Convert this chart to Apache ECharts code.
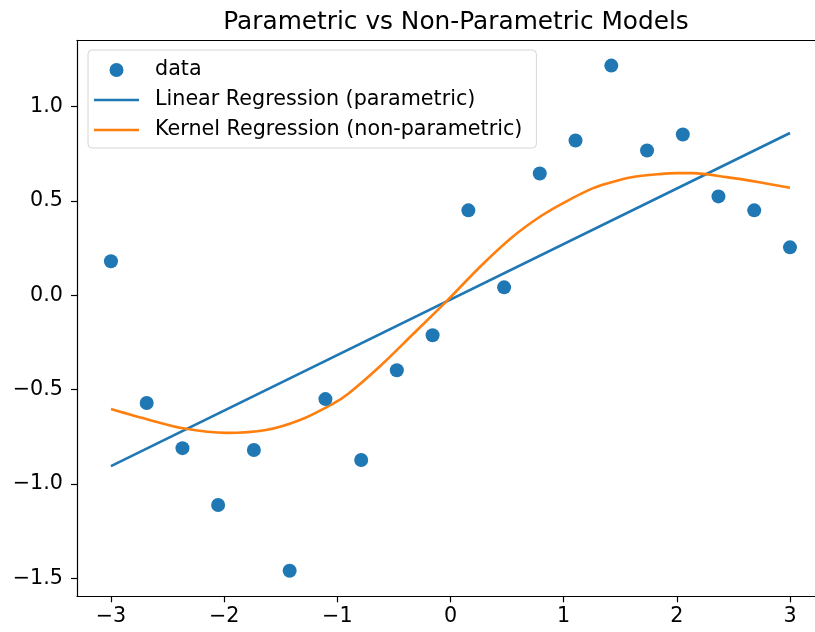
<!DOCTYPE html>
<html>
<head>
<meta charset="utf-8">
<script src="https://cdn.jsdelivr.net/npm/echarts@6/dist/echarts.min.js"></script>
<style>
  html, body { margin: 0; padding: 0; background: #ffffff; }
  #chart { width: 815px; height: 632px; }
</style>
</head>
<body>
<div id="chart"></div>
<script>
// Observed samples
const dataX = [-3.0, -2.684, -2.368, -2.053, -1.737, -1.421, -1.105, -0.789, -0.474, -0.158,
               0.158, 0.474, 0.789, 1.105, 1.421, 1.737, 2.053, 2.368, 2.684, 3.0];
const dataY = [0.18, -0.571, -0.81, -1.111, -0.82, -1.46, -0.55, -0.873, -0.397, -0.212,
               0.45, 0.042, 0.645, 0.82, 1.217, 0.767, 0.852, 0.524, 0.45, 0.254];

// Linear fit, drawn between its end points
const linearX = [-3.0, 3.0];
const linearY = [-0.905, 0.86];

// Kernel regression curve
const kernelX = [-3.0, -2.66, -2.365, -1.98, -1.63, -1.33, -1.04, -0.9, -0.63, -0.33, -0.04,
                 0.26, 0.55, 0.8, 1.0, 1.25, 1.4, 1.6, 1.85, 2.0, 2.14, 2.44, 2.73, 3.0];
const kernelY = [-0.603, -0.661, -0.705, -0.729, -0.714, -0.661, -0.575, -0.52, -0.38, -0.205, -0.035,
                 0.15, 0.31, 0.42, 0.49, 0.565, 0.595, 0.625, 0.642, 0.647, 0.647, 0.626, 0.599, 0.570];

const xTicks = [-3, -2, -1, 0, 1, 2, 3];
const yTicks = [-1.5, -1.0, -0.5, 0.0, 0.5, 1.0];

const seriesNames = ['data', 'Linear Regression (parametric)', 'Kernel Regression (non-parametric)'];

const FONT = 'DejaVu Sans';
const BLUE = '#1f77b4';
const ORANGE = '#ff7f0e';
const X_MIN = -3.3, X_MAX = 3.221;

const zip = (xs, ys) => xs.map((x, i) => [x, ys[i]]);
const minus = s => String(s).replace('-', '\u2212');
const lineIcon = 'path://M0,0 L45,0 L45,2.6 L0,2.6 Z';

const chart = echarts.init(document.getElementById('chart'), null, { renderer: 'canvas' });

chart.setOption({
  animation: false,
  backgroundColor: '#ffffff',
  title: {
    text: 'Parametric vs Non-Parametric Models',
    left: 451, top: 5,
    textAlign: 'center',
    textStyle: { fontFamily: FONT, fontSize: 24.8, fontWeight: 'normal', color: '#000' }
  },
  legend: {
    orient: 'vertical',
    left: 88, top: 50,
    padding: [9, 14, 7, 6],
    itemGap: 8,
    itemWidth: 45,
    itemHeight: 14,
    borderColor: '#d6d6d6',
    borderWidth: 1,
    borderRadius: 4,
    backgroundColor: 'rgba(255,255,255,0.8)',
    textStyle: { fontFamily: FONT, fontSize: 20.7, lineHeight: 22, color: '#000', padding: [0, 0, 0, 11] },
    data: [
      { name: seriesNames[0], icon: 'circle', itemStyle: { color: BLUE } },
      { name: seriesNames[1], icon: lineIcon },
      { name: seriesNames[2], icon: lineIcon }
    ]
  },
  grid: {
    left: 77, top: 40.3, width: 738, height: 556,
    show: false
  },
  xAxis: [
    {
      type: 'value',
      min: X_MIN, max: X_MAX,
      splitLine: { show: false },
      axisLine: { show: true, onZero: false, lineStyle: { color: '#000', width: 1.2 } },
      axisTick: { show: true, length: 6, customValues: xTicks, lineStyle: { color: '#000', width: 1.2 } },
      axisLabel: {
        customValues: xTicks, margin: 10,
        fontFamily: FONT, fontSize: 20.7, color: '#000',
        formatter: v => minus(Math.round(v))
      }
    },
    {
      // top frame edge
      type: 'value',
      position: 'top',
      min: X_MIN, max: X_MAX,
      splitLine: { show: false },
      axisLine: { show: true, onZero: false, lineStyle: { color: '#000', width: 1.2 } },
      axisTick: { show: false },
      axisLabel: { show: false }
    }
  ],
  yAxis: {
    type: 'value',
    min: -1.595, max: 1.351,
    splitLine: { show: false },
    axisLine: { show: true, onZero: false, lineStyle: { color: '#000', width: 1.2 } },
    axisTick: { show: true, length: 6, customValues: yTicks, lineStyle: { color: '#000', width: 1.2 } },
    axisLabel: {
      customValues: yTicks, margin: 14,
      fontFamily: FONT, fontSize: 20.7, color: '#000',
      formatter: v => minus(Number(v).toFixed(1))
    }
  },
  series: [
    {
      name: seriesNames[0],
      type: 'scatter',
      data: zip(dataX, dataY),
      symbol: 'circle',
      symbolSize: 14,
      itemStyle: { color: BLUE, opacity: 1 },
      z: 3
    },
    {
      name: seriesNames[1],
      type: 'line',
      data: zip(linearX, linearY),
      showSymbol: false,
      symbol: 'none',
      lineStyle: { color: BLUE, width: 2.6 },
      itemStyle: { color: BLUE },
      z: 2
    },
    {
      name: seriesNames[2],
      type: 'line',
      data: zip(kernelX, kernelY),
      smooth: 0.3,
      showSymbol: false,
      symbol: 'none',
      lineStyle: { color: ORANGE, width: 2.6 },
      itemStyle: { color: ORANGE },
      z: 2
    }
  ]
});
</script>
</body>
</html>
